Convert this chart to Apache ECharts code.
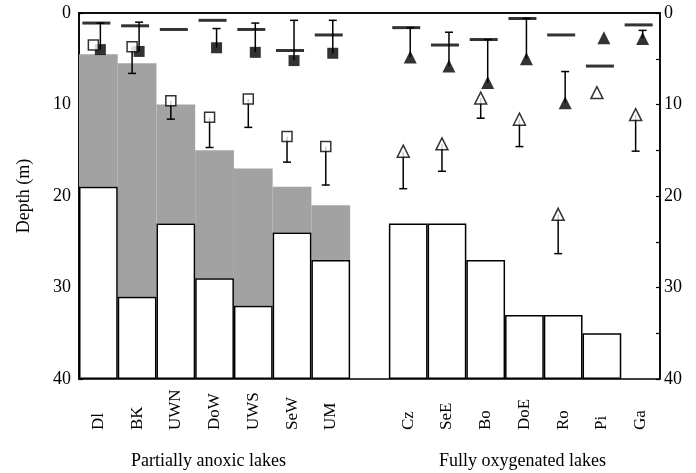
<!DOCTYPE html>
<html>
<head>
<meta charset="utf-8">
<script src="https://cdn.jsdelivr.net/npm/echarts@6/dist/echarts.min.js"></script>
<style>
  html, body { margin: 0; padding: 0; background: #fff; }
  #chart { width: 696px; height: 473px; }
</style>
</head>
<body>
<div id="chart"></div>
<script>
// lakes, with an empty slot between the two groups
var lakes = ['Dl', 'BK', 'UWN', 'DoW', 'UWS', 'SeW', 'UM', '', 'Cz', 'SeE', 'Bo', 'DoE', 'Ro', 'Pi', 'Ga'];
var anoxicCount = 7;

// depth of the lake (top of white bar), m
var maxDepth = [19, 31, 23, 29, 32, 24, 27, null, 23, 23, 27, 33, 33, 35, null];
// top of the anoxic (grey) layer, m
var anoxicTop = [4.5, 5.5, 10, 15, 17, 19, 21, null, null, null, null, null, null, null, null];
// horizontal dash
var mixDepth = [1.1, 1.4, 1.8, 0.8, 1.8, 4.1, 2.4, null, 1.6, 3.5, 2.9, 0.6, 2.4, 5.8, 1.3];
// filled marker and the top end of its bar
var filledDepth = [4.0, 4.2, null, 3.8, 4.3, 5.2, 4.4, null, 4.8, 5.8, 7.6, 5.0, 9.8, 2.7, 2.8];
var filledUpper = [1.1, 1.0, null, 1.7, 1.1, 0.8, 0.8, null, 1.6, 2.1, 2.9, 0.6, 6.4, null, 1.9];
// open marker and the bottom end of its bar
var openDepth = [3.5, 3.7, 9.6, 11.4, 9.4, 13.5, 14.6, null, 15.1, 14.3, 9.3, 11.6, 22.0, 8.7, 11.1];
var openLower = [null, 6.6, 11.6, 14.7, 12.5, 16.3, 18.8, null, 19.2, 17.3, 11.5, 14.6, 26.3, null, 15.1];

var depthTicks = [0, 10, 20, 30, 40];

var serif = 'Liberation Serif';

// stacked bars: transparent base, grey anoxic layer, white sediment block down to 40
var baseData = [], greyData = [], whiteData = [];
lakes.forEach(function (name, i) {
	var d = maxDepth[i];
	var a = anoxicTop[i];
	baseData.push(a != null ? a : (d != null ? d : 0));
	greyData.push(a != null && d != null ? d - a : 0);
	whiteData.push(d != null ? depthTicks[depthTicks.length - 1] - d : '-');
});

function markerData(values) {
	var out = [];
	values.forEach(function (v, i) {
		if (v == null) return;
		out.push({ value: [i, v], symbol: i < anoxicCount ? 'rect' : 'triangle' });
	});
	return out;
}

function dashData() {
	var out = [];
	mixDepth.forEach(function (v, i) {
		if (v != null) out.push([i, v]);
	});
	return out;
}

function barData(from, to) {
	var out = [];
	from.forEach(function (v, i) {
		if (v != null && to[i] != null) out.push([i, v, to[i]]);
	});
	return out;
}

// squares a bit smaller than triangles
function markerSize(square, triangle) {
	return function (val) {
		return val[0] < anoxicCount ? square : triangle;
	};
}

// one-sided error bar with a cap at the far end
function errorBar(offset) {
	return function (params, api) {
		var p1 = api.coord([api.value(0), api.value(1)]);
		var p2 = api.coord([api.value(0), api.value(2)]);
		var x = p1[0] + offset;
		return {
			type: 'group',
			children: [{
				type: 'line',
				shape: { x1: x, y1: p1[1], x2: x, y2: p2[1] },
				style: { stroke: '#000', lineWidth: 1.5 }
			}, {
				type: 'line',
				shape: { x1: x - 4, y1: p2[1], x2: x + 4, y2: p2[1] },
				style: { stroke: '#000', lineWidth: 1.5 }
			}]
		};
	};
}

function depthAxis(pos) {
	return {
		type: 'value',
		position: pos,
		inverse: true,
		min: depthTicks[0],
		max: depthTicks[depthTicks.length - 1],
		interval: 10,
		name: pos == 'left' ? 'Depth (m)' : '',
		nameLocation: 'middle',
		nameGap: 46,
		nameTextStyle: { fontFamily: serif, fontSize: 18, color: '#000' },
		axisLine: { show: true, lineStyle: { color: '#000', width: 1.5 } },
		axisTick: { show: true, inside: true, length: 4, lineStyle: { color: '#000', width: 1.2 } },
		minorTick: { show: true, splitNumber: 2, length: 4, lineStyle: { color: '#000', width: 1.2 } },
		axisLabel: { fontFamily: serif, fontSize: 18, color: '#000', margin: pos == 'left' ? 8 : 4 },
		splitLine: { show: false }
	};
}

var chart = echarts.init(document.getElementById('chart'));
chart.setOption({
	animation: false,
	backgroundColor: '#fff',
	grid: {
		left: 79, right: 36, top: 13, bottom: 94,
		show: true, borderColor: '#000', borderWidth: 1.5
	},
	xAxis: {
		type: 'category',
		data: lakes,
		axisLine: { lineStyle: { color: '#000', width: 1.5 } },
		axisTick: { show: false },
		axisLabel: {
			interval: 0, rotate: 90, align: 'left', margin: 51,
			fontFamily: serif, fontSize: 17, color: '#000'
		}
	},
	yAxis: [depthAxis('left'), depthAxis('right')],
	graphic: [{
		type: 'text', left: 131, top: 452,
		style: { text: 'Partially anoxic lakes', fontFamily: serif, fontSize: 18, fill: '#000' }
	}, {
		type: 'text', left: 439, top: 452,
		style: { text: 'Fully oxygenated lakes', fontFamily: serif, fontSize: 18, fill: '#000' }
	}],
	series: [{
		type: 'bar', stack: 'lake', data: baseData, barCategoryGap: '0%',
		itemStyle: { color: 'transparent' }, silent: true
	}, {
		type: 'bar', stack: 'lake', data: greyData, barCategoryGap: '0%',
		itemStyle: { color: '#a2a2a2' }
	}, {
		type: 'bar', stack: 'lake', data: whiteData, barCategoryGap: '0%',
		itemStyle: { color: '#fff', borderColor: '#000', borderWidth: 1.5 }
	}, {
		type: 'custom', renderItem: errorBar(2), data: barData(filledDepth, filledUpper),
		encode: { x: 0, y: [1, 2] }, z: 3
	}, {
		type: 'custom', renderItem: errorBar(-5), data: barData(openDepth, openLower),
		encode: { x: 0, y: [1, 2] }, z: 3
	}, {
		type: 'scatter', data: dashData(), symbol: 'rect', symbolSize: [28, 3],
		symbolOffset: [-2, 0], itemStyle: { color: '#000' }, z: 4
	}, {
		type: 'scatter', data: markerData(filledDepth), symbolSize: markerSize(11, 13),
		symbolOffset: [2, 0], itemStyle: { color: '#000' }, z: 5
	}, {
		type: 'scatter', data: markerData(openDepth), symbolSize: markerSize(10, 12),
		symbolOffset: [-5, 0], itemStyle: { color: '#fff', borderColor: '#000', borderWidth: 1.5 }, z: 5
	}]
});
</script>
</body>
</html>
